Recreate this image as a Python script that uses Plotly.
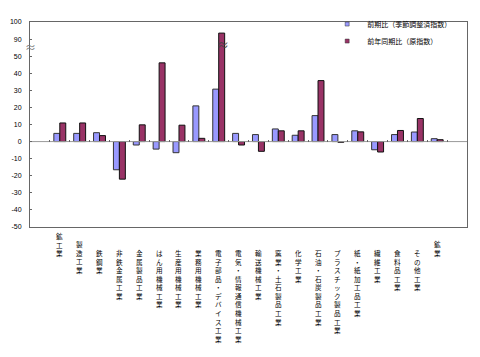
import plotly.graph_objects as go

categories = ["鉱工業", "製造工業", "鉄鋼業", "非鉄金属工業", "金属製品工業", "はん用機械工業",
              "生産用機械工業", "業務用機械工業", "電子部品・デバイス工業", "電気・情報通信機械工業",
              "輸送機械工業", "窯業・土石製品工業", "化学工業", "石油・石炭製品工業",
              "プラスチック製品工業", "紙・紙加工品工業", "繊維工業", "食料品工業", "その他工業", "鉱業"]
qoq = [4.8, 4.8, 5.2, -16.5, -2.0, -4.4, -6.5, 20.9, 30.7, 4.8,
       4.1, 7.4, 3.7, 15.2, 4.1, 6.3, -4.8, 4.1, 5.6, 1.7]
yoy = [10.9, 10.9, 3.5, -22.0, 9.8, 46.1, 9.6, 1.9, 93.5, -2.0,
       -5.7, 6.3, 6.3, 35.7, -0.4, 5.7, -6.1, 6.5, 13.5, 1.1]
series_names = ["前期比（季節調整済指数）", "前年同期比（原指数）"]
series_colors = ["#9999FF", "#993366"]
tick_vals = [-50, -40, -30, -20, -10, 0, 10, 20, 30, 40, 50, 60, 70]
tick_text = ["-50", "-40", "-30", "-20", "-10", "0", "10", "20", "30", "40", "50", "90", "100"]

BREAK_FROM, BREAK_SHIFT = 60, 30  # axis break: values above 60 drawn 30 lower


def disp(v):
    return v - BREAK_SHIFT if v > BREAK_FROM else v


xs = list(range(len(categories)))
FONT = "Noto Sans CJK JP"

fig = go.Figure()
for vals, name, col, lc in [(qoq, series_names[0], series_colors[0], "#333333"),
                            (yoy, series_names[1], series_colors[1], "#111111")]:
    fig.add_trace(go.Bar(x=xs, y=[disp(v) for v in vals], name=name, showlegend=False,
                         customdata=vals, hovertemplate="%{customdata}<extra></extra>",
                         marker=dict(color=col, line=dict(color=lc, width=1))))
# legend entries with small square symbols, one legend box per row
for name, col, lg in zip(series_names, series_colors, ["legend", "legend2"]):
    fig.add_trace(go.Scatter(x=[None], y=[None], mode="markers", name=name, legend=lg,
                             marker=dict(symbol="square", size=4, color=col,
                                         line=dict(color="#333333", width=0.5))))

# overlay axis along the zero line with small ticks between categories
fig.add_trace(go.Scatter(x=[-1.5, 20.5], y=[0, 0], xaxis="x2", mode="lines",
                         line=dict(color="#999999", width=1), showlegend=False, hoverinfo="skip"))

annotations = []
label_shift = {0: 17, 1: 9, 19: 9}
for i, c in enumerate(categories):
    annotations.append(dict(x=i, y=0, xref="x", yref="paper", yanchor="top", xanchor="center",
                            text="<br>".join(list(c)), showarrow=False,
                            yshift=-19 + label_shift.get(i, 0),
                            font=dict(family=FONT, size=6.6, color="#000000")))
# break marks
annotations.append(dict(x=0, xref="paper", y=55.2, yref="y", text="≈", showarrow=False,
                        font=dict(size=11, color="#777777"), xanchor="center", yanchor="middle"))
for i, v in enumerate(yoy):
    if v > BREAK_FROM:
        annotations.append(dict(x=i, xref="x", xshift=4, y=57, yref="y", text="≈", showarrow=False,
                                font=dict(size=12, color="#444444"), xanchor="center", yanchor="middle"))

legend_style = dict(xanchor="left", yanchor="middle", bgcolor="rgba(0,0,0,0)",
                    font=dict(family=FONT, size=7), itemwidth=30, itemsizing="trace")

fig.update_layout(
    width=464, height=341,
    margin=dict(l=19, r=5, t=2, b=122),
    paper_bgcolor="white", plot_bgcolor="white",
    barmode="group", bargap=0.4, bargroupgap=0,
    font=dict(family=FONT, size=7, color="#000000"),
    xaxis=dict(range=[-1.5, 20.5], showticklabels=False, ticks="", showgrid=False,
               showline=True, linecolor="#666666", mirror=True, zeroline=False),
    xaxis2=dict(range=[-1.5, 20.5], overlaying="x", anchor="free", position=50 / 120,
                showticklabels=False, ticks="inside", ticklen=2, tickcolor="#666666",
                tickvals=[i - 0.5 for i in range(len(categories) + 1)],
                showline=False, showgrid=False, zeroline=False),
    yaxis=dict(range=[-50, 70], tickvals=tick_vals, ticktext=tick_text, ticks="inside",
               ticklen=2, tickcolor="#666666", showgrid=False, zeroline=False,
               showline=True, linecolor="#666666", mirror=True, ticklabelstandoff=6,
               ticklabeloverflow="allow",
               tickfont=dict(family="Liberation Sans", size=7)),
    legend=dict(x=0.68, y=0.99, **legend_style),
    legend2=dict(x=0.68, y=0.907, **legend_style),
    annotations=annotations,
    showlegend=True,
)

fig.write_html("out.html")
